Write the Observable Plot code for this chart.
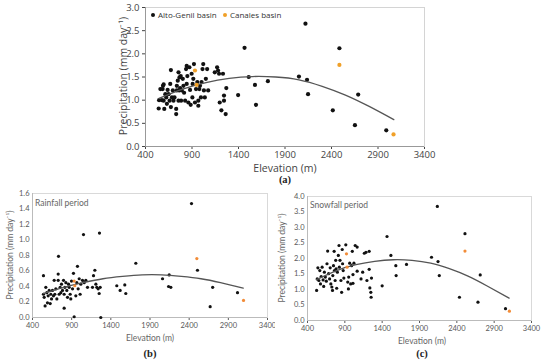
<!DOCTYPE html>
<html><head><meta charset="utf-8">
<script src="https://cdn.jsdelivr.net/npm/d3@7"></script>
<script src="https://cdn.jsdelivr.net/npm/@observablehq/plot@0.6"></script>
<style>
body{margin:0;background:#fff;width:550px;height:363px;position:relative;overflow:hidden;font-family:"Open Sans",sans-serif}
.abs{position:absolute;white-space:nowrap;line-height:1}
.ttlA{font-family:"Open Sans",sans-serif;font-size:10.5px;color:#444}
.ttlB{font-family:"Lato",sans-serif;font-size:8.5px;color:#666}
.pan{font-family:"Liberation Serif",serif;font-weight:bold;font-size:10.5px;color:#222}
.rot{transform:translate(-50%,-50%) rotate(-90deg)}
.ctr{transform:translate(-50%,-50%)}
.leg{font-family:"Open Sans",sans-serif;font-size:8px;color:#333}
.leg span.d{display:inline-block;width:4px;height:4px;border-radius:50%;margin:0 3px 1px 0;vertical-align:middle}
</style></head><body>
<div id="pa" class="abs" style="left:100px;top:0px"></div>
<div id="pb" class="abs" style="left:0px;top:185px"></div>
<div id="pc" class="abs" style="left:275px;top:185px"></div>

<div class="abs leg" style="left:151px;top:11px"><span class="d" style="background:#111"></span>Alto-Genil basin&nbsp;&nbsp;&nbsp;<span class="d" style="background:#f0a028"></span>Canales basin</div>
<div class="abs ttlA rot" style="left:123px;top:76px">Precipitation (mm day⁻¹)</div>
<div class="abs ttlA ctr" style="left:285px;top:168px">Elevation (m)</div>
<div class="abs pan ctr" style="left:285px;top:180px">(a)</div>

<div class="abs ttlB" style="left:35px;top:199px">Rainfall period</div>
<div class="abs ttlB rot" style="left:10px;top:255px">Precipitation (mm day⁻¹)</div>
<div class="abs ttlB ctr" style="left:150px;top:338px">Elevation (m)</div>
<div class="abs pan ctr" style="left:150px;top:354px">(b)</div>

<div class="abs ttlB" style="left:310px;top:201px">Snowfall period</div>
<div class="abs ttlB rot" style="left:282px;top:258px">Precipitation (mm day⁻¹)</div>
<div class="abs ttlB ctr" style="left:422px;top:341px">Elevation (m)</div>
<div class="abs pan ctr" style="left:422px;top:354px">(c)</div>

<script>
// ---------- shared axis ticks ----------
const xTicks = [400, 900, 1400, 1900, 2400, 2900, 3400];
const yTicksA = [0, 0.5, 1.0, 1.5, 2.0, 2.5, 3.0];
const yTicksB = [0, 0.2, 0.4, 0.6, 0.8, 1.0, 1.2, 1.4, 1.6];
const yTicksC = [0, 0.5, 1.0, 1.5, 2.0, 2.5, 3.0, 3.5, 4.0];

// ---------- panel (a): annual ----------
const aAltoElev = [2120,1465,2485,1510,1716,1577,1588,1396,2050,2137,2148,2687,2414,2652,2989,
 542,546,560,577,584,588,595,595,602,613,623,630,638,648,659,666,673,684,673,694,701,712,730,730,737,737,747,755,755,762,765,772,779,783,790,801,808,815,826,836,843,843,850,861,872,879,886,896,904,907,914,921,932,943,957,968,968,979,986,996,1003,1013,1021,1028,1038,1049,1063,1074,1145,1170,1180,1191,1198,1216,1233,1244,1244,1262,1269];
const aAltoPrec = [2.65,2.13,2.12,1.50,1.41,1.33,0.90,1.11,1.51,1.44,1.13,1.12,0.78,0.46,0.35,
 0.82,1.00,1.24,1.00,1.24,1.31,0.99,1.34,0.81,1.13,1.06,0.92,1.22,1.13,0.99,1.35,0.85,1.06,1.65,1.21,0.99,1.06,0.81,0.70,1.21,1.31,1.42,1.60,0.99,1.21,1.49,1.26,1.52,0.99,1.21,1.46,1.31,1.16,0.99,1.67,1.74,1.35,1.52,0.95,1.71,1.22,0.90,1.57,1.06,1.35,1.46,1.78,0.95,1.24,1.39,0.99,0.88,1.24,1.31,1.06,1.39,1.67,1.78,1.21,1.06,1.46,1.67,1.21,1.60,1.71,1.64,1.57,0.95,0.78,1.57,0.99,1.10,0.70,1.26];
const aCanElev = [932, 950, 2485, 3067];
const aCanPrec = [1.64, 1.33, 1.76, 0.26];
const aFitElev = [545, 800, 1050, 1300, 1550, 1800, 2050, 2300, 2550, 2800, 3070];
const aFitPrec = [1.04, 1.24, 1.38, 1.47, 1.51, 1.50, 1.44, 1.30, 1.11, 0.87, 0.58];

// ---------- panel (b): rainfall period ----------
const bAltoElev = [2430,2506,1719,2060,2145,2137,2166,1476,1519,1578,1591,2700,2668,3017,1051,1255,1272,932,732,804,540,
 540,549,561,570,583,591,600,613,626,634,643,655,668,677,685,698,711,728,728,740,753,762,770,783,796,804,813,826,838,847,860,868,881,889,898,911,923,953,966,974,983,996,1008,1017,1038,1060,1081,1102,1166,1179,1196,1209,1221,1238,1251,1264];
const bAltoPrec = [1.47,0.61,0.70,0.50,0.55,0.40,0.39,0.41,0.35,0.42,0.31,0.39,0.14,0.32,1.07,1.09,0.00,0.01,0.79,0.12,0.54,
 0.30,0.26,0.15,0.39,0.32,0.19,0.28,0.35,0.18,0.30,0.24,0.35,0.28,0.48,0.30,0.37,0.24,0.56,0.48,0.30,0.39,0.32,0.43,0.35,0.48,0.30,0.39,0.45,0.35,0.26,0.43,0.39,0.30,0.24,0.47,0.37,0.57,0.28,0.45,0.66,0.37,0.50,0.30,0.43,0.48,0.45,0.48,0.39,0.39,0.54,0.61,0.43,0.39,0.37,0.31,0.39];
const bCanElev = [932, 940, 2498, 3094];
const bCanPrec = [0.47, 0.41, 0.76, 0.22];
const bFitElev = [540, 800, 1050, 1300, 1550, 1800, 2050, 2300, 2550, 2800, 3090];
const bFitPrec = [0.31, 0.39, 0.45, 0.50, 0.53, 0.55, 0.55, 0.53, 0.50, 0.45, 0.38];

// ---------- panel (c): snowfall period ----------
const cAltoElev = [2139,2509,1465,1517,1583,1587,1726,1400,2061,2148,2165,2435,2713,2683,3052,1226,1235,1248,1252,1257,1183,1226,1196,1161,1039,1065,1000,1009,1065,
 522,530,539,552,565,574,583,596,609,617,626,639,652,661,670,683,696,704,713,726,735,739,748,757,761,770,778,783,791,800,813,822,826,835,848,857,865,870,878,887,913,939,948,952,965,978,991,1009,1022,1117,1139];
const cAltoPrec = [3.68,2.80,2.71,2.10,1.77,1.45,1.81,1.12,2.04,1.90,1.45,0.75,1.47,0.59,0.38,1.65,1.05,0.91,0.75,1.37,2.20,2.23,1.29,2.17,2.42,2.37,2.23,1.20,1.59,
 0.97,1.34,1.70,1.29,1.61,1.18,1.42,1.72,1.31,1.10,1.56,1.40,1.27,1.83,2.24,1.51,1.34,1.70,1.18,1.08,0.97,1.45,1.77,2.23,1.61,1.29,1.94,1.67,1.04,1.56,2.10,2.42,1.72,1.94,1.29,0.91,2.29,1.83,1.61,1.37,2.44,1.24,1.02,1.40,1.85,1.18,1.77,1.48,1.85,1.34,1.56];
const cCanElev = [922, 930, 2509, 3104];
const cCanPrec = [2.15, 1.72, 2.24, 0.30];
const cFitElev = [520, 800, 1050, 1300, 1550, 1800, 2050, 2300, 2550, 2800, 3100];
const cFitPrec = [1.32, 1.62, 1.80, 1.91, 1.96, 1.94, 1.85, 1.67, 1.43, 1.12, 0.72];

function rows(xs, ys) { return xs.map((x, i) => ({x, y: ys[i]})); }

function panel(cfg) {
  return Plot.plot({
    width: cfg.width, height: cfg.height,
    marginLeft: cfg.ml, marginRight: cfg.mr, marginTop: cfg.mt, marginBottom: cfg.mb,
    style: {fontFamily: cfg.font, fontSize: cfg.fs + "px", color: cfg.color, background: "transparent"},
    x: {domain: [400, 3400], ticks: xTicks, tickFormat: d => String(d), label: null, tickSize: cfg.xts, tickPadding: 2},
    y: {domain: cfg.ydom, ticks: cfg.yticks, tickFormat: d => d.toFixed(1), label: null, tickSize: cfg.yts, tickPadding: 3},
    marks: [
      Plot.frame({stroke: cfg.frame}),
      Plot.ruleY([cfg.ydom[0]], {stroke: cfg.axis}),
      Plot.ruleX([400], {stroke: cfg.axis}),
      Plot.dot(rows(cfg.ae, cfg.ap), {x: "x", y: "y", r: cfg.r, fill: "#111", stroke: "none"}),
      Plot.line(rows(cfg.fe, cfg.fp), {x: "x", y: "y", curve: "natural", stroke: "#555", strokeWidth: 1.3}),
      Plot.dot(rows(cfg.ce, cfg.cp), {x: "x", y: "y", r: cfg.r, fill: cfg.orange, stroke: "none"})
    ]
  });
}

document.getElementById("pa").append(panel({
  width: 345, height: 180, ml: 45, mr: 21, mt: 7, mb: 34,
  font: "Open Sans", fs: 9.5, color: "#444", frame: "#d4d4d4", axis: "#999",
  xts: 3, yts: 3, ydom: [0, 3], yticks: yTicksA, r: 2.1, orange: "#f0a028",
  ae: aAltoElev, ap: aAltoPrec, ce: aCanElev, cp: aCanPrec, fe: aFitElev, fp: aFitPrec
}));
document.getElementById("pb").append(panel({
  width: 275, height: 150, ml: 32, mr: 8, mt: 8, mb: 18,
  font: "Lato", fs: 7.5, color: "#595959", frame: "#d9d9d9", axis: "#bbb",
  xts: 3, yts: 0, ydom: [0, 1.6], yticks: yTicksB, r: 1.6, orange: "#f28c38",
  ae: bAltoElev, ap: bAltoPrec, ce: bCanElev, cp: bCanPrec, fe: bFitElev, fp: bFitPrec
}));
document.getElementById("pc").append(panel({
  width: 275, height: 150, ml: 32, mr: 19, mt: 11, mb: 15,
  font: "Lato", fs: 7.5, color: "#595959", frame: "#d9d9d9", axis: "#bbb",
  xts: 3, yts: 0, ydom: [0, 4], yticks: yTicksC, r: 1.6, orange: "#f28c38",
  ae: cAltoElev, ap: cAltoPrec, ce: cCanElev, cp: cCanPrec, fe: cFitElev, fp: cFitPrec
}));
</script>
</body></html>
